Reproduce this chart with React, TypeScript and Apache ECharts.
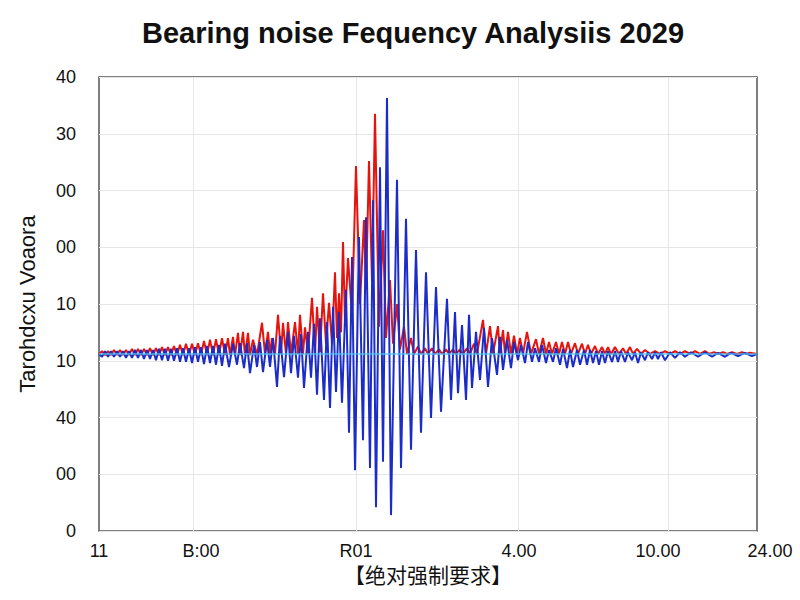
import { useEffect, useRef } from "react";
import * as echarts from "echarts";

const titleText = "Bearing noise Fequency Analysiis 2029";
const xAxisTitle = "【绝对强制要求】";
const yAxisTitle = "Tarohdcxu Voaora";

const yTickLabels = ["0", "00", "40", "10", "10", "00", "00", "30", "40"];
const xTickLabels = ["11", "B:00", "R01", "4.00", "10.00", "24.00"];
const xTickValues = [0, 102, 257, 420, 559, 658];
const xGridValues = [94, 257, 419, 569];
const freqMin = 0;
const freqMax = 658;
const baselineLevel = 3.12;

// Red trace: low-frequency shoulder
const redLow: [number, number][] = [
  [0, 3.12], [3, 3.17], [6, 3.1], [9, 3.17], [12, 3.1], [15, 3.19], [18, 3.1], [21, 3.19], [24, 3.1],
  [27, 3.19], [30, 3.1], [33, 3.21], [36, 3.1], [39, 3.21], [42, 3.1], [45, 3.21], [48, 3.1], [51, 3.22],
  [54, 3.1], [57, 3.22], [60, 3.1], [63, 3.24], [66, 3.1], [69, 3.24], [72, 3.1], [75, 3.26], [78, 3.1],
  [81, 3.28], [84, 3.1], [87, 3.3], [90, 3.1], [93, 3.3], [96, 3.1], [99, 3.31], [102, 3.1], [105, 3.35],
  [108, 3.1], [111, 3.37], [114, 3.1], [117, 3.38], [120, 3.1], [123, 3.4], [126, 3.1],
];

// Red trace: rise to the resonance peak
const redRise: [number, number][] = [
  [129, 3.4], [131, 3.1], [134, 3.42], [136, 3.1], [139, 3.49], [141, 3.1], [144, 3.51], [146, 3.1],
  [149, 3.49], [151, 3.1], [154, 3.37], [158, 3.1], [163, 3.67], [166, 3.12], [169, 3.51], [171, 3.12],
  [173, 3.4], [176, 3.12], [179, 3.81], [182, 3.12], [184, 3.67], [187, 3.12], [189, 3.68], [192, 3.12],
  [196, 3.68], [199, 3.12], [201, 3.81], [204, 3.12], [206, 3.59], [209, 3.12], [213, 4.11], [216, 3.12],
  [218, 3.95], [221, 3.15], [224, 4.19], [227, 3.3], [230, 4.02], [233, 3.3], [236, 4.56], [238, 3.4],
  [240, 4.19], [242, 3.5], [244, 5.09], [246, 3.7], [249, 4.81], [253, 3.8], [257, 6.43], [261, 4.0],
  [265, 5.48], [267, 4.25], [270, 6.52], [273, 4.4], [276, 7.35],
];

// Red trace: decay after the peak
const redFall: [number, number][] = [
  [280, 3.6], [284, 5.3], [287, 3.4], [291, 4.42], [294, 3.3], [298, 4.0], [301, 3.2], [305, 3.6],
  [308, 3.12], [312, 3.4], [315, 3.12], [319, 3.25], [322, 3.12], [326, 3.22], [329, 3.12], [333, 3.22],
  [336, 3.12], [340, 3.2], [343, 3.12], [347, 3.2], [350, 3.12], [354, 3.2], [357, 3.12], [361, 3.2],
  [364, 3.12], [368, 3.22], [371, 3.12], [375, 3.3], [378, 3.12], [384, 3.72], [387, 3.12], [391, 3.61],
  [394, 3.12], [399, 3.61], [401, 3.12], [404, 3.54], [406, 3.12], [409, 3.51], [412, 3.12], [415, 3.44],
  [418, 3.12], [421, 3.4], [424, 3.12], [428, 3.51], [432, 3.12], [437, 3.38], [440, 3.12], [444, 3.4],
  [447, 3.12], [450, 3.33], [453, 3.12], [457, 3.33], [460, 3.12], [463, 3.33], [466, 3.12], [469, 3.33],
  [472, 3.12],
];

// Red trace: high-frequency tail
const redTail: [number, number][] = [
  [476, 3.31], [479, 3.12], [483, 3.3], [486, 3.12], [489, 3.28], [492, 3.12], [496, 3.26], [499, 3.12],
  [503, 3.24], [506, 3.12], [509, 3.24], [512, 3.12], [516, 3.24], [520, 3.12], [524, 3.22], [527, 3.12],
  [531, 3.24], [534, 3.12], [538, 3.21], [542, 3.12], [546, 3.19], [551, 3.12], [556, 3.17], [561, 3.12],
  [566, 3.17], [571, 3.12], [576, 3.17], [581, 3.12], [586, 3.17], [591, 3.12], [596, 3.17], [601, 3.12],
  [606, 3.17], [610, 3.12], [615, 3.15], [619, 3.12], [624, 3.15], [628, 3.12], [633, 3.15], [638, 3.12],
  [643, 3.15], [647, 3.12], [651, 3.14], [658, 3.12],
];

// Blue trace: low-frequency shoulder
const blueLow: [number, number][] = [
  [0, 3.12], [3, 3.07], [6, 3.17], [9, 3.07], [12, 3.17], [15, 3.07], [18, 3.17], [21, 3.07], [24, 3.17],
  [27, 3.05], [30, 3.17], [33, 3.05], [36, 3.19], [39, 3.05], [42, 3.19], [45, 3.03], [48, 3.19], [51, 3.03],
  [54, 3.19], [57, 3.01], [60, 3.21], [63, 3.01], [66, 3.21], [69, 3.0], [72, 3.21], [75, 3.0], [78, 3.22],
  [81, 2.98], [84, 3.22], [87, 2.98], [90, 3.22], [93, 2.96], [96, 3.24], [99, 2.98], [102, 3.24], [105, 2.94],
  [108, 3.26], [111, 2.96], [114, 3.26], [117, 2.93], [120, 3.28], [123, 2.91], [126, 3.3],
];

// Blue trace: rise to the resonance peak
const blueRise: [number, number][] = [
  [130, 2.89], [134, 3.3], [138, 2.93], [141, 3.31], [145, 2.87], [148, 3.31], [151, 2.78], [155, 3.28],
  [158, 2.89], [161, 3.33], [164, 2.8], [168, 3.37], [171, 2.89], [174, 3.4], [178, 2.54], [181, 3.44],
  [185, 2.71], [189, 3.51], [192, 2.78], [195, 3.44], [199, 2.7], [202, 3.47], [205, 2.52], [209, 3.51],
  [212, 2.7], [215, 3.65], [218, 2.4], [221, 3.75], [225, 2.31],
];

// Blue trace: resonance core and decay
const blueCore: [number, number][] = [
  [228, 3.68], [231, 2.17], [234, 3.95], [237, 2.45], [240, 3.86], [243, 2.26], [247, 4.25], [250, 1.73],
  [253, 4.83], [256, 1.07], [260, 5.18], [264, 1.6], [267, 5.53], [271, 1.11], [274, 5.83], [277, 0.42],
  [281, 6.41], [284, 1.22], [288, 7.63], [292, 0.28], [298, 6.19], [302, 1.11], [307, 5.5], [312, 1.43],
  [317, 4.95], [322, 1.73], [327, 4.56], [332, 1.99], [337, 4.3], [342, 2.1], [348, 4.09], [352, 2.31],
  [356, 3.86], [359, 2.43], [363, 3.63], [367, 2.31], [370, 3.81], [373, 2.52], [377, 3.51], [381, 2.66],
  [385, 3.58], [389, 2.54], [393, 3.4], [398, 2.75], [401, 3.42], [404, 2.84], [408, 3.37], [412, 2.87],
  [415, 3.33], [419, 3.01], [422, 3.28], [426, 2.96], [429, 3.33], [433, 2.98], [436, 3.22], [440, 2.98],
  [443, 3.28], [447, 2.96], [450, 3.19], [454, 2.98], [457, 3.22], [461, 2.93], [464, 3.21], [468, 2.87],
  [471, 3.19],
];

// Blue trace: high-frequency tail
const blueTail: [number, number][] = [
  [474, 2.89], [478, 3.19], [481, 2.93], [485, 3.19], [488, 2.93], [491, 3.19], [494, 2.96], [497, 3.17],
  [500, 2.93], [503, 3.17], [506, 2.96], [509, 3.17], [513, 2.98], [516, 3.17], [519, 2.98], [522, 3.17],
  [526, 2.98], [529, 3.15], [533, 3.01], [536, 3.15], [539, 2.96], [542, 3.15], [546, 3.01], [549, 3.15],
  [553, 3.03], [556, 3.15], [559, 3.03], [562, 3.15], [566, 3.01], [571, 3.15], [576, 3.05], [581, 3.15],
  [586, 3.07], [592, 3.15], [599, 3.07], [606, 3.15], [613, 3.07], [619, 3.14], [626, 3.07], [632, 3.14],
  [639, 3.08], [646, 3.14], [653, 3.08], [658, 3.12],
];

const fontFamily = "'Liberation Sans', Arial, 'Noto Sans CJK SC', sans-serif";

function buildOption(): echarts.EChartsOption {
  return {
    animation: false,
    backgroundColor: "#ffffff",
    title: {
      text: titleText,
      left: 408,
      top: 13,
      textAlign: "center",
      textStyle: { fontSize: 29, fontWeight: "bold", color: "#111", fontFamily },
    },
    grid: {
      left: 99,
      right: 43,
      top: 77,
      bottom: 69,
      show: true,
      borderColor: "#555",
      borderWidth: 1.5,
      backgroundColor: "transparent",
    },
    xAxis: {
      type: "value",
      min: freqMin,
      max: freqMax,
      name: xAxisTitle,
      nameLocation: "middle",
      nameGap: 34,
      nameTextStyle: { fontSize: 21, color: "#111", fontFamily },
      axisLine: { show: false },
      axisTick: { show: false, customValues: xGridValues } as any,
      splitLine: { show: true, lineStyle: { color: "#e6e6e6", width: 1 } },
      axisLabel: {
        customValues: xTickValues,
        hideOverlap: false,
        showMinLabel: true,
        showMaxLabel: true,
        fontSize: 18,
        color: "#111",
        fontFamily,
        margin: 11,
        formatter: (v: number) => {
          const i = xTickValues.indexOf(v);
          if (i < 0) return "";
          return i === xTickLabels.length - 1 ? `{last|${xTickLabels[i]}}` : xTickLabels[i];
        },
        rich: { last: { fontSize: 18, color: "#111", fontFamily, padding: [0, 0, 0, 26] } },
      } as any,
    },
    yAxis: {
      type: "value",
      min: 0,
      max: 8,
      interval: 1,
      name: yAxisTitle,
      nameLocation: "middle",
      nameGap: 61,
      nameRotate: 90,
      nameTextStyle: { fontSize: 22, color: "#111", fontFamily },
      axisLine: { show: false },
      axisTick: { show: false },
      splitLine: { show: true, lineStyle: { color: "#e6e6e6", width: 1 } },
      axisLabel: {
        fontSize: 18,
        color: "#111",
        fontFamily,
        margin: 23,
        formatter: (v: number) => yTickLabels[Math.round(v)] ?? "",
      },
    },
    series: [
      {
        type: "line",
        name: "red",
        data: [...redLow, ...redRise, ...redFall, ...redTail],
        showSymbol: false,
        symbol: "none",
        z: 2,
        lineStyle: { color: "#e5140f", width: 2 },
      },
      {
        type: "line",
        name: "blue",
        data: [...blueLow, ...blueRise, ...blueCore, ...blueTail],
        showSymbol: false,
        symbol: "none",
        z: 3,
        lineStyle: { color: "#1c2cc8", width: 2 },
      },
      {
        type: "line",
        name: "baseline",
        data: [
          [freqMin, baselineLevel],
          [freqMax, baselineLevel],
        ],
        showSymbol: false,
        symbol: "none",
        z: 4,
        lineStyle: { color: "#4cc4f2", width: 1.5, opacity: 0.85 },
      },
    ],
  };
}

export default function App() {
  const ref = useRef<HTMLDivElement>(null);
  useEffect(() => {
    if (!ref.current) return;
    const chart = echarts.init(ref.current, undefined, { renderer: "svg" });
    chart.setOption(buildOption());
    return () => chart.dispose();
  }, []);
  return (
    <div
      ref={ref}
      style={{ position: "fixed", left: 0, top: 0, width: 800, height: 600, background: "#fff" }}
    />
  );
}
